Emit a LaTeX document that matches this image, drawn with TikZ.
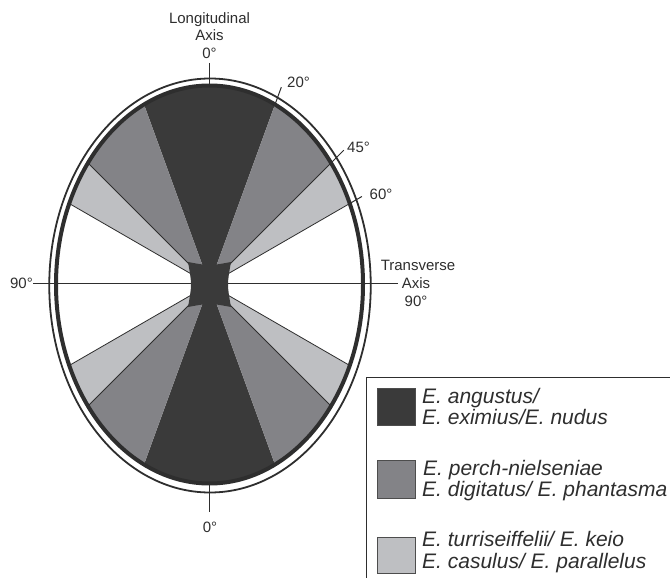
\documentclass[tikz,border=0pt]{standalone}
\usepackage{fontspec}
\setmainfont{Liberation Sans}
\definecolor{dk}{HTML}{3A3A3A}
\definecolor{md}{HTML}{838387}
\definecolor{lt}{HTML}{BEBFC2}
\definecolor{ln}{HTML}{2E2E2E}
\begin{document}
\begin{tikzpicture}[x=1pt,y=-1pt,
  lbl/.style={font=\fontsize{15}{17}\selectfont, text=ln, inner sep=0pt, anchor=base},
  leg/.style={font=\fontsize{21}{24}\selectfont\itshape, text=ln, inner sep=0pt, anchor=base west},
  swatch/.style={draw=ln!85, line width=0.9pt},
  divider/.style={draw=ln, line width=0.8pt},
  tickline/.style={draw=ln, line width=1pt},
  rim/.style={draw=ln},
  legframe/.style={draw=ln, line width=1pt}]
\useasboundingbox (0,0) rectangle (670,578);
\coordinate (C) at (209.5,284.5);

% sectors
\begin{scope}
  \clip (C) ellipse [x radius=153.5pt, y radius=199pt];
  \fill[white] (C) ellipse [x radius=153.5pt, y radius=199pt];
  \begin{scope}[shift={(C)}]
    \fill[dk] (0,0) -- (70:300pt) -- (110:300pt) -- cycle;
    \fill[dk] (0,0) -- (250:300pt) -- (290:300pt) -- cycle;
    \fill[md] (0,0) -- (45:300pt) -- (70:300pt) -- cycle;
    \fill[md] (0,0) -- (110:300pt) -- (135:300pt) -- cycle;
    \fill[md] (0,0) -- (225:300pt) -- (250:300pt) -- cycle;
    \fill[md] (0,0) -- (290:300pt) -- (315:300pt) -- cycle;
    \fill[lt] (0,0) -- (30:300pt) -- (45:300pt) -- cycle;
    \fill[lt] (0,0) -- (135:300pt) -- (150:300pt) -- cycle;
    \fill[lt] (0,0) -- (210:300pt) -- (225:300pt) -- cycle;
    \fill[lt] (0,0) -- (315:300pt) -- (330:300pt) -- cycle;
    \foreach \a in {30,45,135,150,210,225,315,330}
      \draw[divider] (0,0) -- (\a:300pt);
  \end{scope}
\end{scope}

% transverse axis line
\coordinate (hl) at (33,283.5);
\coordinate (hr) at (398,283.5);
\draw[divider] (hl) -- (hr);

% central square
\fill[dk] (188,262) .. controls (209.5,266) .. (231,262)
  .. controls (227,284.5) .. (231,307)
  .. controls (209.5,303) .. (188,307)
  .. controls (192,284.5) .. (188,262) -- cycle;

% rims
\draw[rim, line width=4pt] (C) ellipse [x radius=153.5pt, y radius=199pt];
\draw[rim, line width=1.8pt] (210,285.5) ellipse [x radius=160.75pt, y radius=207pt];

% ticks
\coordinate (tt1) at (209.5,63);
\coordinate (tt2) at (209.5,86);
\coordinate (bt1) at (209.5,483);
\coordinate (bt2) at (209.5,512);
\draw[tickline] (tt1) -- (tt2);
\draw[tickline] (bt1) -- (bt2);
\begin{scope}[shift={(C)}]
  \draw[tickline] (70:190pt) -- (70:210pt);
  \draw[tickline] (45:171pt) -- (45:190pt);
  \draw[tickline] (30:160pt) -- (30:176pt);
\end{scope}

% labels
\node[lbl] (longit) at (209.5,24) {Longitudinal};
\node[lbl] (laxis) at (209.5,41) {Axis};
\node[lbl] (ltop) at (209.5,59) {0°};
\node[lbl] (l20) at (298.5,88) {20°};
\node[lbl] (l45) at (358.5,152) {45°};
\node[lbl] (l60) at (381,199) {60°};
\node[lbl] (lleft) at (21.5,288) {90°};
\node[lbl] (lbot) at (210,532) {0°};
\node[lbl] (trans) at (418,270) {Transverse};
\node[lbl] (taxis) at (416,288.5) {Axis};
\node[lbl] (t90) at (416,306) {90°};

% legend
\draw[legframe] (366,578) -- (366,377) -- (670,377);
\filldraw[swatch, fill=dk] (377,388) rectangle (415,425);
\filldraw[swatch, fill=md] (377,460) rectangle (415,498);
\filldraw[swatch, fill=lt] (377,537) rectangle (415,573);
\node[leg] (g1a) at (422,403.5) {E. angustus/};
\node[leg] (g1b) at (422,424.5) {E. eximius/E. nudus};
\node[leg] (g2a) at (423,475) {E. perch-nielseniae};
\node[leg] (g2b) at (422,496.5) {E. digitatus/ E. phantasma};
\node[leg] (g3a) at (422,546.5) {E. turriseiffelii/ E. keio};
\node[leg] (g3b) at (422,568) {E. casulus/ E. parallelus};
\end{tikzpicture}
\end{document}
